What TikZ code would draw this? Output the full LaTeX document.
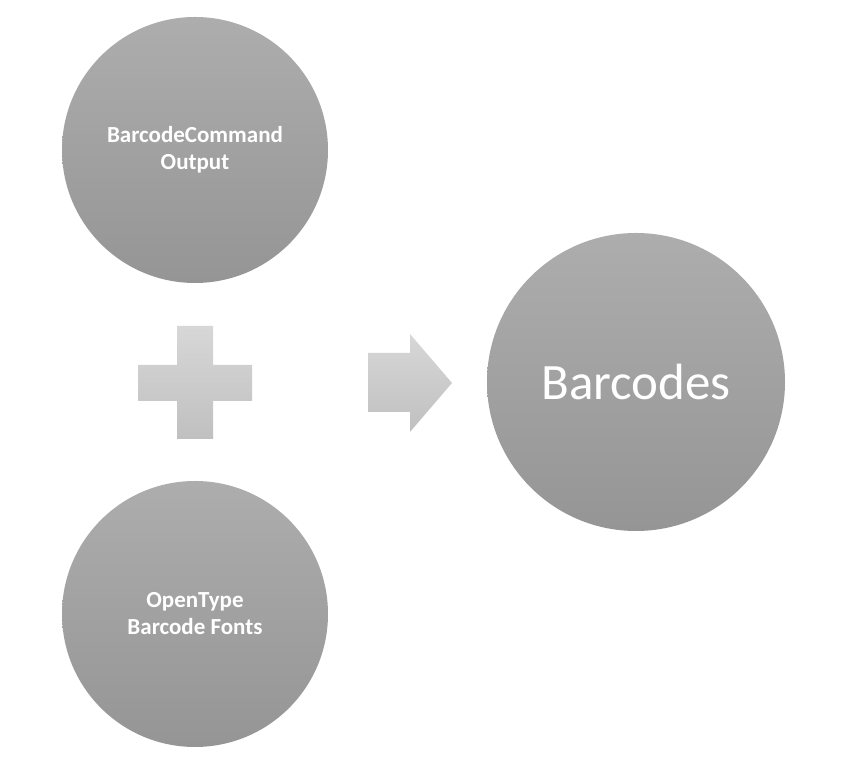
\documentclass[tikz,border=0pt]{standalone}
\usepackage{fontspec}
\setmainfont{Carlito}
\usetikzlibrary{positioning,shapes.arrows}
\definecolor{bubbletop}{HTML}{ADADAD}
\definecolor{bubblebot}{HTML}{959595}
\definecolor{signtop}{HTML}{D7D7D7}
\definecolor{signbot}{HTML}{C0C0C0}
\tikzset{%
	bubble/.style = {circle, minimum size=266pt, inner sep=0pt, top color=bubbletop, bottom color=bubblebot, text=white, align=center, font=\bfseries\fontsize{23}{27}\selectfont},
	bigbubble/.style = {bubble, minimum size=298pt, font=\fontsize{51}{56}\selectfont},
	sign/.style   = {top color=signtop, bottom color=signbot, draw=none},
}

\begin{document}
\begin{tikzpicture}[x=1pt,y=1pt]
		\useasboundingbox (0,0) rectangle (868,778);
		\node[bubble] (cmd) at (195,628) {BarcodeCommand\\Output};
		\node[bubble] (fonts) at (195,164) {OpenType\\Barcode Fonts};
		\node[bigbubble] (codes) at (636,396) {Barcodes};
		% plus sign
		\path[sign] (177,452) -- (213,452) -- (213,413) -- (252,413) -- (252,377) -- (213,377) -- (213,339) -- (177,339) -- (177,377) -- (138,377) -- (138,413) -- (177,413) -- cycle;
		% arrow
		\path[sign] (368,425) -- (410,425) -- (410,444) -- (452,395) -- (410,346) -- (410,366) -- (368,366) -- cycle;
		\end{tikzpicture}
\end{document}
